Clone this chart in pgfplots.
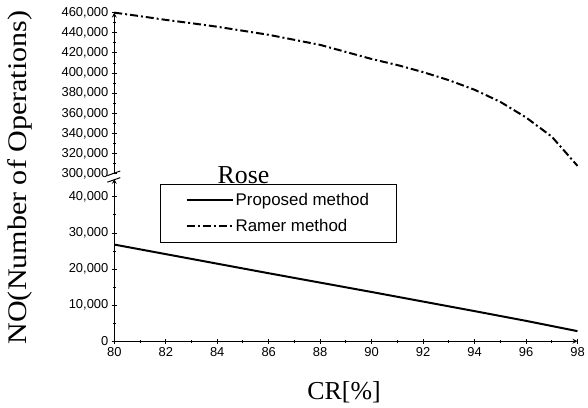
\documentclass[border=0pt]{standalone}
\usepackage{pgfplots}
\pgfplotsset{compat=1.18}
\usepackage{fontspec}
\setmainfont{Liberation Sans}
\newfontfamily\timesfont{Liberation Serif}
\usetikzlibrary{calc}

\pgfplotsset{
 mystyle/.style={
  scale only axis, width=466bp, xmin=80, xmax=98,
  axis line style={-, line width=1.2bp},
  tick align=outside,
  major tick length=5bp, minor tick length=3bp,
  every tick/.style={black, line width=1bp},
  ticklabel style={font=\fontsize{13bp}{15bp}\selectfont},
  scaled y ticks=false,
  /pgf/number format/assume math mode=true,
  /pgf/number format/fixed,
  /pgf/number format/1000 sep={,},
 },
 ramer/.style={black, line width=2bp, dash pattern=on 8bp off 3bp on 2bp off 3bp},
 proposed/.style={black, line width=2bp},
}

\begin{document}
\begin{tikzpicture}
\begin{axis}[mystyle, name=lower,
  height=163.3bp, ymin=0, ymax=45000,
  axis x line=bottom, axis y line=left,
  xtick={80,82,84,86,88,90,92,94,96,98}, minor x tick num=1,
  ytick={0,10000,20000,30000,40000}, minor y tick num=1,
  clip=false,
  xlabel={\timesfont\fontsize{26bp}{28bp}\selectfont CR[\%]},
  xlabel style={at={(rel axis cs:0.496,-0.317)}, anchor=center, inner sep=0bp},
  ylabel={\timesfont\fontsize{27bp}{30bp}\selectfont\scalebox{1.12}[1]{NO(Number of Operations)}},
  ylabel style={at={(rel axis cs:-0.204,1.009)}, anchor=center, inner sep=0bp},
  legend style={at={(rel axis cs:0.099,0.967)}, anchor=north west, draw=black, line width=0.8bp,
    font=\fontsize{17bp}{20bp}\selectfont, inner xsep=25.5bp, inner ysep=7bp, row sep=8bp},
  legend cell align=left,
  legend image code/.code={\draw[#1] (0bp,0bp) -- (46bp,0bp);},
]
\addplot[proposed] coordinates {
(80,26800) (82,24150) (84,21500) (86,18850) (88,16250) (90,13650) (92,11000) (94,8350) (96,5650) (98,2800)
};
\addlegendentry{Proposed method}
\addlegendimage{ramer}
\addlegendentry{Ramer method}
\node[font=\timesfont\fontsize{26bp}{28bp}\selectfont, inner sep=0pt] at (rel axis cs:0.279,1.025) {Rose};
\draw[black, line width=1bp] ($(rel axis cs:0,1)+(-7bp,3.3bp)$) -- ($(rel axis cs:0,1)+(6bp,8bp)$);
\draw[black, line width=1bp] ($(rel axis cs:0,1)+(-7bp,-3.3bp)$) -- ($(rel axis cs:0,1)+(6bp,1.3bp)$);
\end{axis}

\begin{axis}[mystyle,
  at={($(lower.north west)+(0,5bp)$)}, anchor=south west,
  height=162.3bp, ymin=300000, ymax=460000,
  axis x line=none, axis y line=left,
  ytick={300000,320000,340000,360000,380000,400000,420000,440000,460000},
  minor y tick num=1,
  clip=false,
]
\addplot[ramer] coordinates {
(80,460000) (81,456500) (82,452800) (83,449500) (84,446000) (85,442000) (86,438000) (87,433000) (88,428000) (89,421000) (90,414000) (91,408000) (92,401000) (93,393000) (94,383500) (95,371500) (96,356000) (97,337000) (98,308000)
};
\end{axis}
\path ($(lower.south west)+(-115bp,-66.7bp)$) ($(lower.south west)+(476bp,343.3bp)$);
\end{tikzpicture}
\end{document}
